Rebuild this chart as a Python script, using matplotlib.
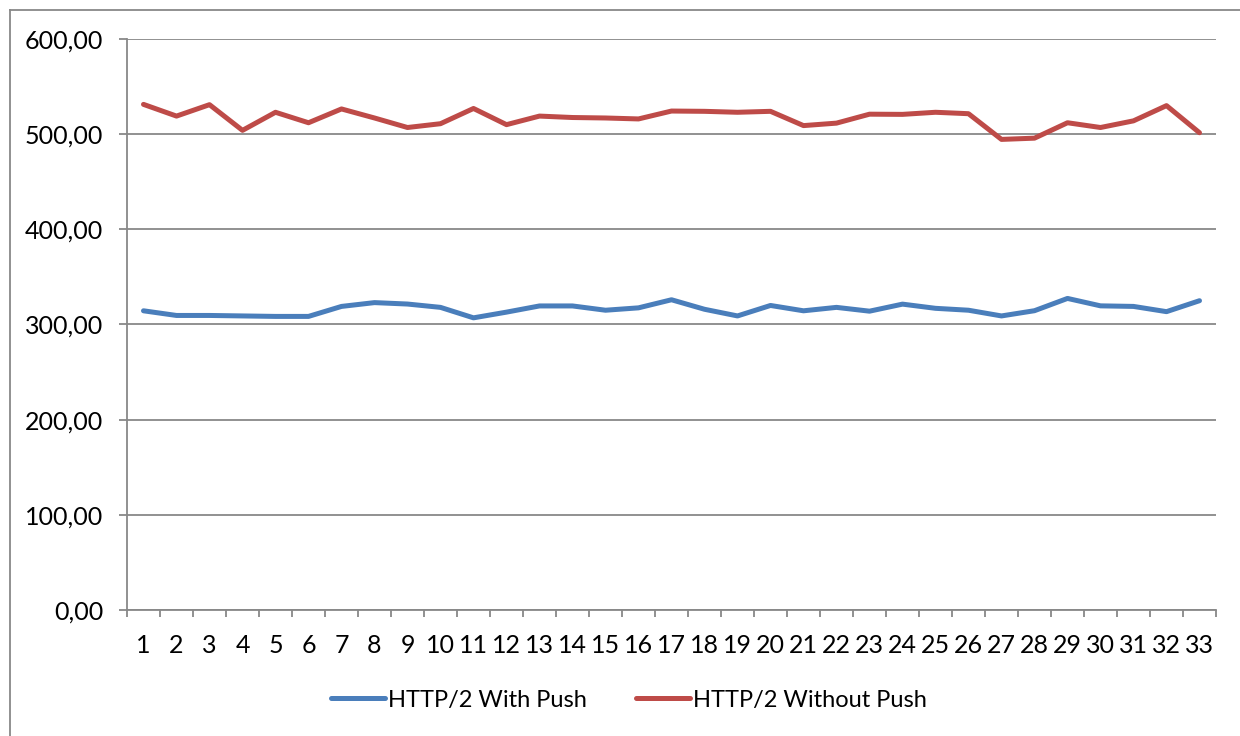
import numpy as np
import matplotlib.pyplot as plt
from matplotlib.lines import Line2D

# === Datos ===
runs = list(range(1, 34))
with_push = [314.4, 309.5, 309.5, 309, 308.5, 308.5, 319, 323, 321.5, 318,
             307, 313, 319.5, 319.5, 315, 317.5, 326, 316, 309, 320,
             314.4, 318, 314, 321.4, 317, 315, 309, 314.5, 327.4, 319.6,
             319, 313.5, 325]
without_push = [531.3, 519, 531, 504, 523, 512, 526.5, 517, 507, 511,
                527, 510, 519, 517.5, 517, 516, 524.3, 524, 523, 524,
                509, 511.6, 521, 520.8, 523, 521.5, 494.5, 495.8, 512, 507,
                514, 530, 501.5]
y_ticks = [0, 100, 200, 300, 400, 500, 600]
series_names = ["HTTP/2 With Push", "HTTP/2 Without Push"]

plt.rcParams["font.family"] = ["Lato", "DejaVu Sans"]
grey = "#888888"
fs = 18

fig = plt.figure(figsize=(12.4, 7.36), dpi=100)
ax = fig.add_axes([127 / 1240, 1 - 610 / 736, (1216 - 127) / 1240, (610 - 39) / 736])

x = np.arange(len(runs))
ax.plot(x, with_push, color="#4a7ebb", lw=3.6, solid_joinstyle="round",
        solid_capstyle="round", label=series_names[0])
ax.plot(x, without_push, color="#be4b48", lw=3.6, solid_joinstyle="round",
        solid_capstyle="round", label=series_names[1])

ax.set_xlim(-0.5, len(runs) - 0.5)
ax.set_ylim(0, 600)
ax.set_yticks(y_ticks)
ax.set_yticklabels([f"{v:.2f}".replace(".", ",") for v in y_ticks])
ax.set_xticks(x)
ax.set_xticklabels([str(r) for r in runs])
ax.set_xticks(np.arange(len(runs) + 1) - 0.5, minor=True)

ax.grid(True, axis="y", color=grey, lw=1.3)
ax.set_axisbelow(True)
for s in ["top", "right"]:
    ax.spines[s].set_visible(False)
for s in ["left", "bottom"]:
    ax.spines[s].set_color(grey)
    ax.spines[s].set_linewidth(1.3)

ax.tick_params(axis="y", length=6, width=1.3, color=grey, labelsize=fs, pad=11)
ax.tick_params(axis="x", which="major", length=0, labelsize=fs, pad=17)
ax.tick_params(axis="x", which="minor", length=5, width=1.3, color=grey)

fig.legend(loc="center", bbox_to_anchor=(0.507, 1 - 700 / 736), ncol=2, frameon=False,
           fontsize=17, handlelength=2.3, handletextpad=0.1, columnspacing=2.1)

# borde del gráfico
fig.add_artist(Line2D([10 / 1240, 1], [1 - 10 / 736, 1 - 10 / 736],
                      transform=fig.transFigure, color=grey, lw=1.3))
fig.add_artist(Line2D([10 / 1240, 10 / 1240], [0, 1 - 10 / 736],
                      transform=fig.transFigure, color=grey, lw=1.3))

fig.savefig("out.png", dpi=100)
